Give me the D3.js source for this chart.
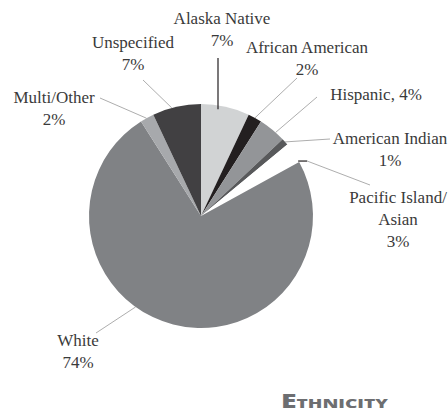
<!DOCTYPE html>
<html>
<head>
<meta charset="utf-8">
<script src="https://cdn.jsdelivr.net/npm/d3@7"></script>
<style>
  html, body { margin: 0; padding: 0; background: #fff; }
  svg { display: block; }
</style>
</head>
<body>
<svg id="chart" width="448" height="416"></svg>
<script>
// ---- data ----
const categories = ["Alaska Native", "African American", "Hispanic", "American Indian",
                    "Pacific Island/Asian", "White", "Multi/Other", "Unspecified"];
const values = [7, 2, 4, 1, 3, 74, 2, 7];
const colors = ["#d1d3d4", "#231f20", "#939598", "#58595b", "#ffffff", "#808285", "#a7a9ac", "#414042"];
const labelLines = [
  ["Alaska Native", "7%"],
  ["African American", "2%"],
  ["Hispanic, 4%"],
  ["American Indian", "1%"],
  ["Pacific Island/", "Asian", "3%"],
  ["White", "74%"],
  ["Multi/Other", "2%"],
  ["Unspecified", "7%"]
];
const title = "Ethnicity";

// ---- layout (positions, not data) ----
const cx = 201, cy = 216, R = 112;
const labelLayout = [
  { x: 222, y: 24,  lx: 218, ly: 58,  t: 0.36, dark: true, vertical: true },
  { x: 307, y: 53,  lx: 297, ly: 78,  t: 0.5 },
  { x: 376, y: 100, lx: 317, ly: 97,  t: 0.65 },
  { x: 390, y: 144, lx: 330, ly: 139, t: 0.5 },
  { x: 398, y: 203, lx: 370, ly: 185, t: 1.0, dash: true },
  { x: 78,  y: 346, lx: 96,  ly: 333, t: 0.58 },
  { x: 54,  y: 103, lx: 100, ly: 98,  t: 0.45 },
  { x: 133, y: 48,  lx: 143, ly: 80,  t: 0.4 }
];

const svg = d3.select("#chart");
const g = svg.append("g").attr("transform", `translate(${cx},${cy})`);

const pie = d3.pie().sort(null).value(d => d)(values);
const arc = d3.arc().innerRadius(0).outerRadius(R);

g.selectAll("path.slice")
  .data(pie)
  .join("path")
  .attr("class", "slice")
  .attr("d", arc)
  .attr("fill", (d, i) => colors[i]);

// leader lines
pie.forEach((d, i) => {
  const L = labelLayout[i];
  const a = d.startAngle + (d.endAngle - d.startAngle) * L.t;
  const px = Math.sin(a) * R, py = -Math.cos(a) * R;
  let sx = px, sy = py;
  if (L.vertical) { sx = L.lx - cx; sy = -Math.sqrt(R * R - sx * sx) + 4; }
  if (L.dash) {
    const sa = d.endAngle;
    const qx = Math.sin(sa) * R, qy = -Math.cos(sa) * R;
    g.append("line")
      .attr("x1", qx - 1).attr("y1", qy - 1)
      .attr("x2", qx + 8).attr("y2", qy - 1)
      .attr("stroke", "#231f20").attr("stroke-width", 1.2);
    sx = qx + 8; sy = qy - 1;
  }
  g.append("line")
    .attr("x1", sx).attr("y1", sy)
    .attr("x2", L.lx - cx).attr("y2", L.ly - cy)
    .attr("stroke", L.dark ? "#231f20" : "#8a8a8a")
    .attr("stroke-width", L.dark ? 1.2 : 0.7);
});

// labels
labelLines.forEach((lines, i) => {
  const L = labelLayout[i];
  const t = svg.append("text")
    .attr("x", L.x).attr("y", L.y)
    .attr("text-anchor", "middle")
    .style("font-family", "\"Liberation Serif\", \"DejaVu Serif\", serif")
    .attr("font-size", 17)
    .attr("fill", "#3a3a3a");
  lines.forEach((s, j) => {
    t.append("tspan").attr("x", L.x).attr("dy", j === 0 ? 0 : 22).text(s);
  });
});

// title in small caps
const tt = svg.append("text")
  .attr("x", 281).attr("y", 408)
  .attr("textLength", 107)
  .attr("lengthAdjust", "spacingAndGlyphs")
  .style("font-family", "\"Open Sans\", \"DejaVu Sans\", sans-serif")
  .attr("font-weight", 800)
  .attr("fill", "#6d6e71");
tt.append("tspan").attr("font-size", 18.5).text(title[0].toUpperCase());
tt.append("tspan").attr("font-size", 12.5).text(title.slice(1).toUpperCase());
</script>
</body>
</html>
